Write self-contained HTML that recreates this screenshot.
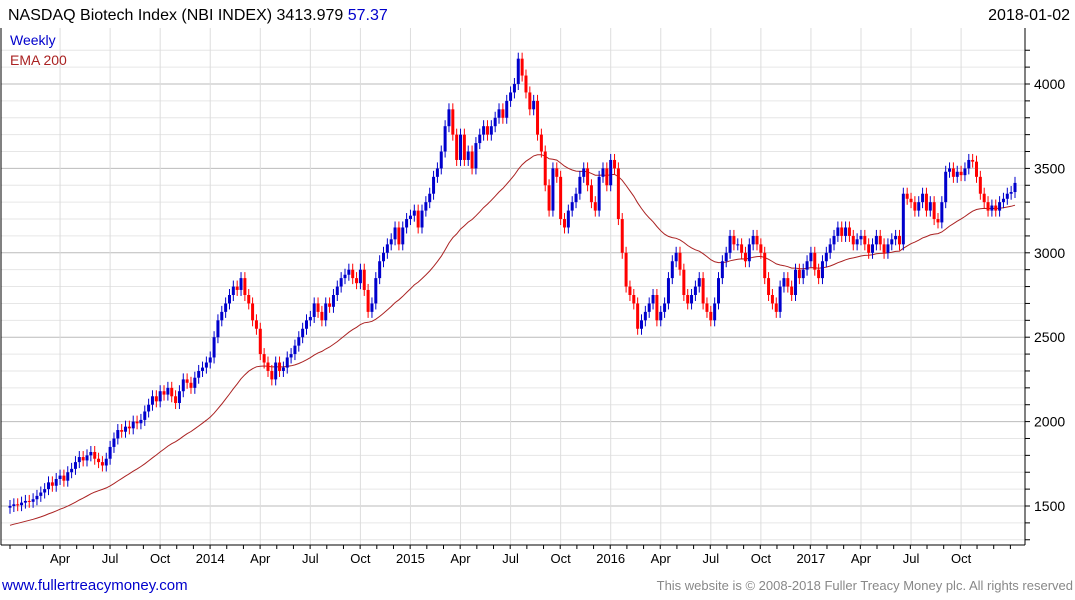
<!DOCTYPE html>
<html><head><meta charset="utf-8"><style>
body{margin:0;background:#fff;font-family:"Liberation Sans",sans-serif}
svg{display:block}
</style></head><body>
<svg id="c" width="1075" height="600" xmlns="http://www.w3.org/2000/svg" font-family="Liberation Sans, sans-serif">
<text x="8" y="20" font-size="16">NASDAQ Biotech Index (NBI INDEX) 3413.979 <tspan fill="#0000cc">57.37</tspan></text>
<text x="1070" y="20" font-size="16" text-anchor="end">2018-01-02</text>
<g id="grid"></g>
<g id="ema"></g>
<g id="candles"></g>
<g id="axes"></g>
<text x="10" y="45" font-size="14" fill="#0000cc">Weekly</text>
<text x="10" y="65" font-size="14" fill="#aa2222">EMA 200</text>
<text x="2" y="590" font-size="15" fill="#0000cc">www.fullertreacymoney.com</text>
<text x="1073" y="590" font-size="13" fill="#888" text-anchor="end">This website is © 2008-2018 Fuller Treacy Money plc. All rights reserved</text>
</svg>
<script>
const closes=[1500,1510,1505,1520,1530,1525,1540,1560,1580,1600,1640,1620,1660,1680,1650,1700,1720,1760,1790,1770,1800,1820,1780,1760,1740,1780,1850,1900,1950,1940,1970,1960,2000,1990,2010,2060,2100,2150,2120,2180,2160,2200,2150,2110,2180,2250,2230,2200,2260,2300,2320,2350,2380,
2500,2600,2650,2700,2750,2800,2780,2850,2750,2700,2600,2550,2400,2350,2300,2250,2350,2300,2320,2380,2400,2450,2500,2550,2600,2620,2700,2650,2600,2700,2680,2750,2800,2850,2870,2900,2850,2820,2900,2780,2650,2700,2850,2950,3000,3050,3080,3150,3050,3150,3200,3220,3250,
3150,3250,3300,3350,3450,3500,3600,3750,3850,3700,3550,3700,3550,3600,3500,3650,3700,3750,3700,3750,3800,3850,3800,3900,3950,4000,4150,4050,3950,3850,3900,3700,3600,3400,3250,3500,3450,3200,3150,3250,3300,3350,3450,3500,3400,3300,3250,3450,3500,3400,3550,3500,
3200,3000,2800,2750,2700,2550,2600,2650,2700,2750,2600,2650,2700,2850,2950,3000,2900,2750,2700,2750,2800,2850,2700,2650,2600,2700,2850,2950,3000,3100,3050,3050,3000,2950,3050,3100,3050,3000,2850,2750,2700,2650,2800,2850,2800,2750,2900,2850,2900,2950,3000,
2900,2850,2950,3000,3050,3100,3150,3100,3150,3100,3050,3080,3100,3050,3000,3050,3100,3050,3000,3050,3080,3100,3050,3350,3320,3300,3250,3300,3350,3250,3300,3200,3180,3300,3480,3500,3450,3480,3460,3500,3550,3540,3450,3350,3300,3250,3280,3250,3300,3320,3350,3360,3414];
const priceTicks=[1500,2000,2500,3000,3500,4000];
const monthLabels=["Apr","Jul","Oct","2014","Apr","Jul","Oct","2015","Apr","Jul","Oct","2016","Apr","Jul","Oct","2017","Apr","Jul","Oct"];
const monthWeeks=[13,26,39,52,65,78,91,104,117,130,143,156,169,182,195,208,221,234,247];
const emaSeed=1380;

const NS="http://www.w3.org/2000/svg";
const L=1,R=1025,T=28,B=545;
const n=closes.length;
const xs=i=>10+i*(1005/(n-1));
const ys=p=>84+(4000-p)*0.1688;
function mk(tag,attrs,parent){const e=document.createElementNS(NS,tag);for(const k in attrs)e.setAttribute(k,attrs[k]);parent.appendChild(e);return e;}
const grid=document.getElementById('grid'),axes=document.getElementById('axes'),cg=document.getElementById('candles'),eg=document.getElementById('ema');
for(let p=1300;p<=4200;p+=100){const y=ys(p);if(y<T||y>B)continue;
 const major=priceTicks.includes(p);
 const l=mk('line',{x1:L,x2:R,y1:y,y2:y,stroke:major?'#bbbbbb':'#e6e6e6','stroke-width':1},grid);
 
 
 const t=mk('line',{x1:R,x2:R+5,y1:y,y2:y,stroke:'#000'},axes);
 
 
}
priceTicks.forEach(p=>{const t=mk('text',{x:1034,y:ys(p)+5,'font-size':14},axes);t.textContent=p;
 
 });
monthWeeks.forEach((w,k)=>{const x=xs(w);
 const l=mk('line',{x1:x,x2:x,y1:T,y2:B,stroke:'#dddddd'},grid);
 
 
 const t=mk('text',{x:x,y:563,'font-size':13,'text-anchor':'middle'},axes);t.textContent=monthLabels[k];
 
 });
for(let i=0;i<n;i+=4.33){const x=xs(i);const t=mk('line',{x1:x,x2:x,y1:B,y2:B+4,stroke:'#000'},axes);
 
 }
[[L,T,L,B],[R,T,R,B],[L,B,R,B]].forEach(a=>{const l=mk('line',{x1:a[0],y1:a[1],x2:a[2],y2:a[3],stroke:'#000'},axes);
 
 });
// EMA
const alpha=2/41;let e=emaSeed;let pts=[];
closes.forEach((c,i)=>{e=e+alpha*(c-e);pts.push(xs(i).toFixed(1)+','+ys(e).toFixed(1));});
const pl=mk('polyline',{points:pts.join(' '),fill:'none',stroke:'#aa2222','stroke-width':1},eg);


// candles
closes.forEach((c,i)=>{const o=i?closes[i-1]:c-10;const up=c>=o;const col=up?'#0000cc':'#ff0000';
 const x=xs(i);const top=ys(Math.max(o,c)),bot=ys(Math.min(o,c));
 const w=mk('line',{x1:x,x2:x,y1:top-6,y2:bot+6,stroke:col,'stroke-width':1},cg);
 
 
 const r=mk('rect',{x:x-1.5,y:top,width:3,height:Math.max(1,bot-top),fill:col},cg);
 
 
});
</script>
</body></html>
